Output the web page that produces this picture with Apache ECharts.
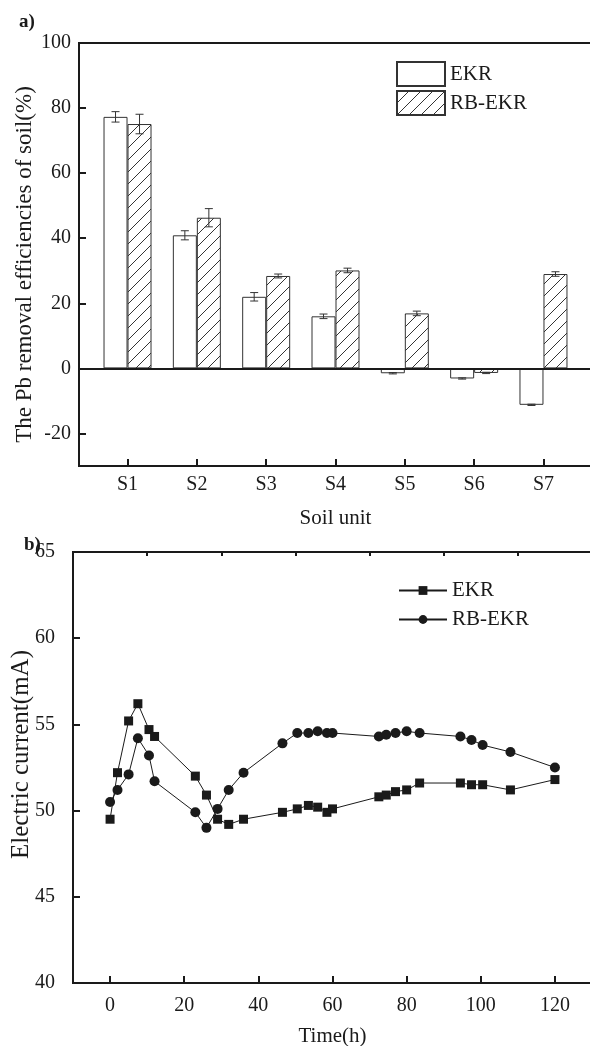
<!DOCTYPE html>
<html>
<head>
<meta charset="utf-8">
<script src="https://cdn.jsdelivr.net/npm/echarts@6/dist/echarts.min.js"></script>
<style>
html, body { margin: 0; padding: 0; background: #fff; }
#main { width: 590px; height: 1046px; }
</style>
</head>
<body>
<div id="main"></div>
<script>
// a) Pb removal efficiency per soil unit
let soilUnits = ['S1', 'S2', 'S3', 'S4', 'S5', 'S6', 'S7'];
let ekrRemoval = [77.3, 40.9, 22.0, 16.0, -1.5, -3.1, -11.2];
let ekrRemovalErr = [1.6, 1.4, 1.3, 0.7, 0.2, 0.2, 0.2];
let rbRemoval = [75.1, 46.3, 28.4, 30.1, 16.9, -1.4, 29.0];
let rbRemovalErr = [3.0, 2.8, 0.6, 0.7, 0.7, 0.2, 0.7];
let removalTicks = [-20, 0, 20, 40, 60, 80, 100];

// b) electric current vs time
let timeH = [0, 2, 5, 7.5, 10.5, 12, 23, 26, 29, 32, 36, 46.5, 50.5, 53.5, 56, 58.5, 60,
    72.5, 74.5, 77, 80, 83.5, 94.5, 97.5, 100.5, 108, 120];
let ekrCurrent = [49.5, 52.2, 55.2, 56.2, 54.7, 54.3, 52.0, 50.9, 49.5, 49.2, 49.5, 49.9, 50.1, 50.3, 50.2, 49.9, 50.1,
    50.8, 50.9, 51.1, 51.2, 51.6, 51.6, 51.5, 51.5, 51.2, 51.8];
let rbCurrent = [50.5, 51.2, 52.1, 54.2, 53.2, 51.7, 49.9, 49.0, 50.1, 51.2, 52.2, 53.9, 54.5, 54.5, 54.6, 54.5, 54.5,
    54.3, 54.4, 54.5, 54.6, 54.5, 54.3, 54.1, 53.8, 53.4, 52.5];
let timeTicks = [0, 20, 40, 60, 80, 100, 120];
let timeMinorTicks = [10, 30, 50, 70, 90, 110];

let FONT = 'Liberation Serif';
let INK = '#1a1a1a';

// diagonal hatch for RB-EKR bars
let hatch = document.createElement('canvas');
hatch.width = 12;
hatch.height = 12;
let hctx = hatch.getContext('2d');
hctx.strokeStyle = '#333';
hctx.lineWidth = 1;
hctx.beginPath();
hctx.moveTo(0, 12); hctx.lineTo(12, 0);
hctx.moveTo(-3, 3); hctx.lineTo(3, -3);
hctx.moveTo(9, 15); hctx.lineTo(15, 9);
hctx.stroke();

function errorBars(vals, errs, shift) {
    return {
        type: 'custom',
        xAxisIndex: 0,
        yAxisIndex: 0,
        silent: true,
        z: 5,
        data: vals.map(function (v, i) { return [i + 1, v, errs[i]]; }),
        renderItem: function (params, api) {
            let x = api.value(0), y = api.value(1), e = api.value(2);
            let hi = api.coord([x, y + e]);
            let lo = api.coord([x, y - e]);
            let cx = hi[0] + shift;
            let st = {stroke: '#333', lineWidth: 1};
            return {
                type: 'group',
                children: [
                    {type: 'line', shape: {x1: cx, y1: hi[1], x2: cx, y2: lo[1]}, style: st},
                    {type: 'line', shape: {x1: cx - 4, y1: hi[1], x2: cx + 4, y2: hi[1]}, style: st},
                    {type: 'line', shape: {x1: cx - 4, y1: lo[1], x2: cx + 4, y2: lo[1]}, style: st}
                ]
            };
        }
    };
}

let axisText = {fontFamily: FONT, fontSize: 20, color: INK};
let nameText = {fontFamily: FONT, fontSize: 21, color: INK};

let myChart = echarts.init(document.getElementById('main'));

let option = {
    animation: false,
    backgroundColor: '#fff',
    title: [
        {text: 'a)', left: 19, top: 13, padding: 0, textStyle: {fontFamily: FONT, fontSize: 19, fontWeight: 'bold', color: INK}},
        {text: 'b)', left: 24, top: 536, padding: 0, textStyle: {fontFamily: FONT, fontSize: 19, fontWeight: 'bold', color: INK}}
    ],
    legend: [
        {
            data: ['EKR', 'RB-EKR'],
            orient: 'vertical',
            left: 396, top: 61,
            padding: 0,
            icon: 'rect',
            itemWidth: 48, itemHeight: 24, itemGap: 3,
            selectedMode: false,
            textStyle: {fontFamily: FONT, fontSize: 21, color: INK}
        },
        {
            data: ['EKR_b', 'RB-EKR_b'],
            formatter: function (n) { return n.replace('_b', ''); },
            orient: 'vertical',
            left: 398, top: 580,
            padding: 0,
            itemWidth: 48, itemHeight: 11, itemGap: 8,
            selectedMode: false,
            textStyle: {fontFamily: FONT, fontSize: 21, color: INK}
        }
    ],
    grid: [
        {left: 79, top: 43, right: -2, height: 423, outerBoundsMode: 'none',
            show: true, borderColor: INK, borderWidth: 2},
        {left: 73, top: 552, right: -2, height: 431, outerBoundsMode: 'none',
            show: true, borderColor: INK, borderWidth: 2}
    ],
    xAxis: [
        {
            gridIndex: 0, type: 'value', min: 0.3, max: 7.7,
            name: 'Soil unit', nameLocation: 'middle', nameGap: 42, nameTextStyle: nameText,
            nameMoveOverlap: false,
            axisLine: {onZero: false, lineStyle: {color: INK, width: 2}},
            axisTick: {inside: true, length: 7, customValues: [1, 2, 3, 4, 5, 6, 7], lineStyle: {color: INK, width: 2}},
            axisLabel: Object.assign({margin: 9, customValues: [1, 2, 3, 4, 5, 6, 7],
                formatter: function (v) { return soilUnits[Math.round(v) - 1]; }}, axisText),
            splitLine: {show: false}
        },
        {
            gridIndex: 1, type: 'value', min: -10, max: 130,
            name: 'Time(h)', nameLocation: 'middle', nameGap: 43, nameTextStyle: nameText,
            nameMoveOverlap: false,
            axisLine: {onZero: false, lineStyle: {color: INK, width: 2}},
            axisTick: {inside: true, length: 7, customValues: timeTicks, lineStyle: {color: INK, width: 2}},
            axisLabel: Object.assign({margin: 13, customValues: timeTicks}, axisText),
            splitLine: {show: false}
        },
        {
            gridIndex: 1, type: 'value', min: -10, max: 130,
            axisLine: {show: false, onZero: false},
            axisTick: {inside: true, length: 4, customValues: timeMinorTicks, lineStyle: {color: INK, width: 2}},
            axisLabel: {show: false},
            splitLine: {show: false}
        }
    ],
    yAxis: [
        {
            gridIndex: 0, type: 'value', min: -30, max: 100,
            name: 'The Pb removal efficiencies of soil(%)', nameLocation: 'middle', nameGap: 43,
            nameMoveOverlap: false,
            nameTextStyle: Object.assign({padding: [0, 20, 0, 0]}, nameText, {fontSize: 23}),
            axisLine: {onZero: false, lineStyle: {color: INK, width: 2}},
            axisTick: {inside: true, length: 7, customValues: removalTicks, lineStyle: {color: INK, width: 2}},
            axisLabel: Object.assign({margin: 8, customValues: removalTicks}, axisText),
            splitLine: {show: false}
        },
        {
            gridIndex: 1, type: 'value', min: 40, max: 65, interval: 5,
            name: 'Electric current(mA)', nameLocation: 'middle', nameGap: 39,
            nameMoveOverlap: false,
            nameTextStyle: Object.assign({padding: [0, 0, 0, 26]}, nameText, {fontSize: 25}),
            axisLine: {onZero: false, lineStyle: {color: INK, width: 2}},
            axisTick: {inside: true, length: 7, lineStyle: {color: INK, width: 2}},
            axisLabel: Object.assign({margin: 18}, axisText),
            splitLine: {show: false}
        }
    ],
    series: [
        {
            name: 'EKR',
            type: 'bar',
            xAxisIndex: 0, yAxisIndex: 0,
            barWidth: 24, barGap: '0%',
            data: ekrRemoval.map(function (v, i) { return [i + 1, v]; }),
            itemStyle: {color: '#fff', borderColor: '#333', borderWidth: 1},
            markLine: {
                silent: true, symbol: 'none',
                label: {show: false},
                lineStyle: {color: INK, width: 2, type: 'solid'},
                data: [{yAxis: 0}]
            }
        },
        {
            name: 'RB-EKR',
            type: 'bar',
            xAxisIndex: 0, yAxisIndex: 0,
            barWidth: 24, barGap: '0%',
            data: rbRemoval.map(function (v, i) { return [i + 1, v]; }),
            itemStyle: {color: {image: hatch, repeat: 'repeat'}, borderColor: '#333', borderWidth: 1}
        },
        errorBars(ekrRemoval, ekrRemovalErr, -12),
        errorBars(rbRemoval, rbRemovalErr, 12),
        {
            name: 'EKR_b',
            type: 'line',
            xAxisIndex: 1, yAxisIndex: 1,
            symbol: 'rect', symbolSize: 9,
            data: timeH.map(function (t, i) { return [t, ekrCurrent[i]]; }),
            itemStyle: {color: INK},
            lineStyle: {color: INK, width: 1}
        },
        {
            name: 'RB-EKR_b',
            type: 'line',
            xAxisIndex: 1, yAxisIndex: 1,
            symbol: 'circle', symbolSize: 10,
            data: timeH.map(function (t, i) { return [t, rbCurrent[i]]; }),
            itemStyle: {color: INK},
            lineStyle: {color: INK, width: 1}
        }
    ]
};

myChart.setOption(option);
</script>
</body>
</html>
